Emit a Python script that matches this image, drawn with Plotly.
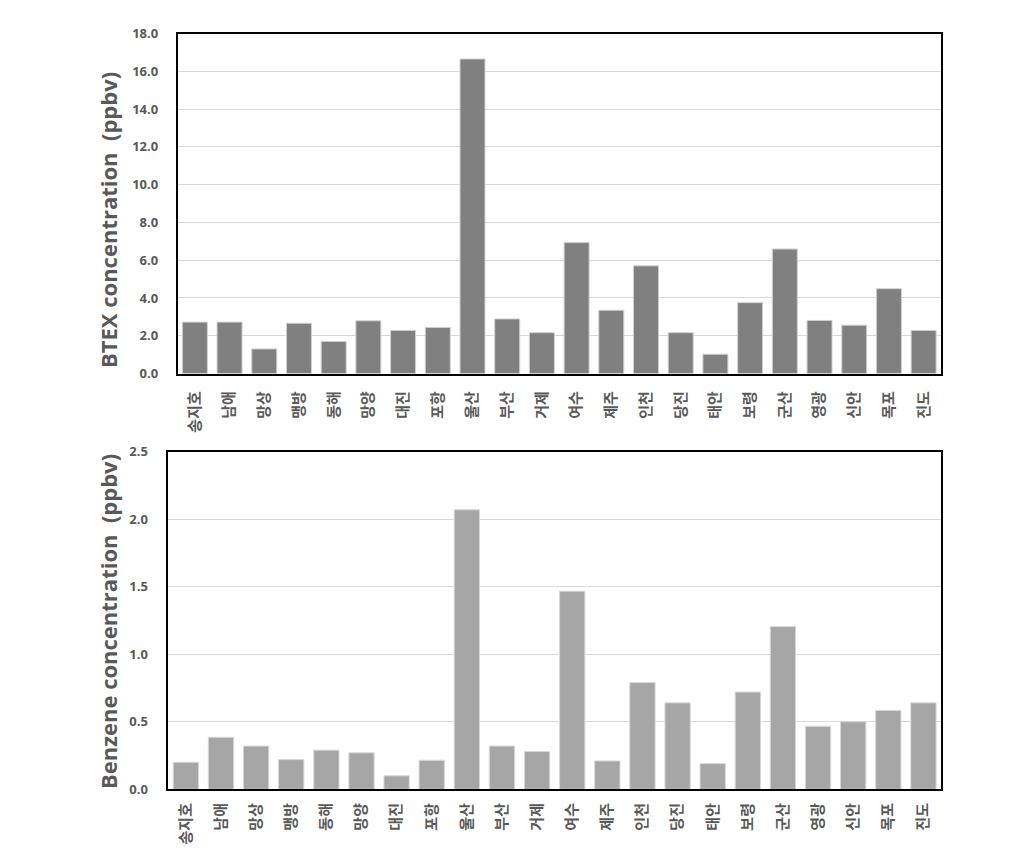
import plotly.graph_objects as go

sites = ["송지호", "남애", "망상", "맹방", "동해", "망양", "대진", "포항", "울산", "부산", "거제",
         "여수", "제주", "인천", "당진", "태안", "보령", "군산", "영광", "신안", "목포", "진도"]
btex = [2.72, 2.72, 1.30, 2.66, 1.70, 2.79, 2.28, 2.44, 16.65, 2.89, 2.16,
        6.93, 3.35, 5.70, 2.16, 1.02, 3.75, 6.59, 2.81, 2.56, 4.49, 2.28]
benzene = [0.20, 0.385, 0.32, 0.22, 0.29, 0.27, 0.10, 0.215, 2.07, 0.32, 0.28,
           1.467, 0.21, 0.79, 0.64, 0.19, 0.72, 1.205, 0.466, 0.50, 0.584, 0.64]
titles = ["BTEX concentration  (ppbv)", "Benzene concentration  (ppbv)"]

# page body has an 8px margin; figure coordinates = window coordinates - 8
OFF = 8
W, H = 1029 - 2 * OFF, 852 - 2 * OFF


def px(x):
    return (x - OFF) / W


def py(y):
    return 1 - (y - OFF) / H


tick_font = dict(family="Open Sans, Noto Sans CJK KR", size=13, color="#595959")
title_font = dict(family="Open Sans, Noto Sans CJK KR", size=22, color="#595959")
kr_font = dict(family="Noto Sans CJK KR", size=15, color="#595959", weight=700)

fig = go.Figure()
fig.add_trace(go.Bar(x=sites, y=btex, marker=dict(color="#808080", line=dict(color="#d0d0d0", width=1)),
                     xaxis="x", yaxis="y", showlegend=False))
fig.add_trace(go.Bar(x=sites, y=benzene, marker=dict(color="#a6a6a6", line=dict(color="#d8d8d8", width=1)),
                     xaxis="x2", yaxis="y2", showlegend=False))

axis_common = dict(showline=True, mirror=True, linecolor="black", linewidth=1.5, automargin=False)

fig.update_layout(
    width=W, height=H,
    margin=dict(l=0, r=0, t=0, b=0),
    paper_bgcolor="white", plot_bgcolor="white",
    bargap=0.28,
    xaxis=dict(domain=[px(177.5), px(941)], anchor="y", tickangle=-90, tickfont=kr_font,
               ticks="outside", ticklen=10, tickcolor="rgba(0,0,0,0)", **axis_common),
    yaxis=dict(domain=[py(373.5), py(33.5)], anchor="x", range=[0, 18], dtick=2,
               tickformat=".1f", tickfont=tick_font, showgrid=True, gridcolor="#d9d9d9", gridwidth=1,
               zeroline=False, ticks="outside", ticklen=15, tickcolor="rgba(0,0,0,0)",
               **axis_common),
    xaxis2=dict(domain=[px(168.3), px(941)], anchor="y2", tickangle=-90, tickfont=kr_font,
                ticks="outside", ticklen=6, tickcolor="rgba(0,0,0,0)", **axis_common),
    yaxis2=dict(domain=[py(789.3), py(451.7)], anchor="x2", range=[0, 2.5], dtick=0.5,
                tickformat=".1f", tickfont=tick_font, showgrid=True, gridcolor="#d9d9d9", gridwidth=1,
                zeroline=False, ticks="outside", ticklen=16, tickcolor="rgba(0,0,0,0)",
                **axis_common),
    annotations=[
        dict(text="<b>%s</b>" % titles[0], x=px(108), y=py(220), xref="paper", yref="paper",
             textangle=-90, showarrow=False, font=title_font, xanchor="center", yanchor="middle"),
        dict(text="<b>%s</b>" % titles[1], x=px(108), y=py(622), xref="paper", yref="paper",
             textangle=-90, showarrow=False, font=title_font, xanchor="center", yanchor="middle"),
    ],
)
fig.update_yaxes(tickprefix="<b>", ticksuffix="</b>")

fig.write_html("out.html")
